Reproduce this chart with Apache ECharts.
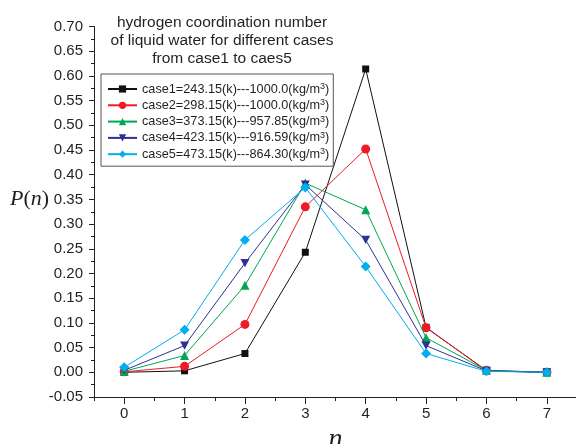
<!DOCTYPE html>
<html>
<head>
<meta charset="utf-8">
<script src="https://cdn.jsdelivr.net/npm/echarts@6/dist/echarts.min.js"></script>
<style>
  html, body { margin: 0; padding: 0; background: #fff; }
  #chart { width: 576px; height: 444px; }
</style>
</head>
<body>
<div id="chart"></div>
<script>
// coordination number n
const nValues = [0, 1, 2, 3, 4, 5, 6, 7];
const xTickLabels = ["0", "1", "2", "3", "4", "5", "6", "7"];
const xMinorTicks = [-0.5, 0.5, 1.5, 2.5, 3.5, 4.5, 5.5, 6.5, 7.5];

const caseNames = [
  "case1=243.15(k)---1000.0(kg/m3)",
  "case2=298.15(k)---1000.0(kg/m3)",
  "case3=373.15(k)---957.85(kg/m3)",
  "case4=423.15(k)---916.59(kg/m3)",
  "case5=473.15(k)---864.30(kg/m3)"
];

const case1 = [0.000, 0.003, 0.038, 0.243, 0.614, 0.091, 0.003, 0.000];
const case2 = [0.001, 0.012, 0.097, 0.335, 0.452, 0.090, 0.004, 0.000];
const case3 = [0.002, 0.034, 0.176, 0.383, 0.329, 0.070, 0.004, 0.000];
const case4 = [0.004, 0.054, 0.221, 0.380, 0.268, 0.054, 0.003, 0.000];
const case5 = [0.010, 0.086, 0.268, 0.374, 0.214, 0.038, 0.002, 0.000];

const caseData = [case1, case2, case3, case4, case5];
const colors = ["#111111", "#ed1c24", "#00a651", "#2e3192", "#00aeef"];
const symbols = ["rect", "circle", "triangle", "path://M0,0 L10,0 L5,9 Z", "diamond"];
const symbolSizes = [7, 9, 9, 9, 10];

const chart = echarts.init(document.getElementById("chart"));
const textColor = "#231f20";
const sans = "Liberation Sans, Arial, sans-serif";
const serif = "Liberation Serif, Times New Roman, serif";

const series = caseData.map((vals, i) => ({
  name: caseNames[i],
  type: "line",
  xAxisIndex: 0,
  data: vals.map((v, k) => [nValues[k], v]),
  symbol: symbols[i],
  symbolSize: symbolSizes[i],
  symbolKeepAspect: true,
  lineStyle: { color: colors[i], width: 1 },
  itemStyle: { color: colors[i] },
  z: 2 + i
}));

const option = {
  animation: false,
  backgroundColor: "#fff",
  textStyle: { fontFamily: sans, color: textColor },
  title: {
    text: "hydrogen coordination number\nof liquid water for different cases\nfrom case1 to caes5",
    left: 217,
    top: 8.5,
    textAlign: "center",
    textStyle: {
      fontFamily: sans,
      fontSize: 15.5,
      fontWeight: "normal",
      color: textColor,
      lineHeight: 18
    }
  },
  legend: {
    orient: "vertical",
    left: 101,
    top: 74,
    padding: [8, 4, 5, 6],
    borderColor: "#555",
    borderWidth: 1,
    itemWidth: 29,
    itemHeight: 9,
    itemGap: 2.3,
    data: caseNames,
    formatter: (name) => name.replace(/3\)$/, "{sup|3}{t|)}"),
    textStyle: {
      fontFamily: sans,
      fontSize: 12.7,
      color: textColor,
      lineHeight: 14,
      rich: {
        sup: { fontFamily: sans, fontSize: 9, lineHeight: 9, verticalAlign: "top", color: textColor },
        t: { fontFamily: sans, fontSize: 12.7, lineHeight: 14, color: textColor }
      }
    }
  },
  grid: { left: 94, top: 26.5, width: 483, height: 370.5, outerBoundsMode: "none" },
  xAxis: [
    {
      type: "value",
      min: -0.5,
      max: 7.5,
      name: "n",
      nameLocation: "middle",
      nameGap: 19,
      nameTextStyle: { fontFamily: serif, fontStyle: "italic", fontSize: 28, color: textColor },
      axisLine: { show: true, onZero: false, lineStyle: { color: "#222", width: 1 } },
      axisTick: { show: true, customValues: nValues, length: 7, lineStyle: { color: "#222" } },
      axisLabel: {
        customValues: nValues,
        formatter: (v) => xTickLabels[nValues.indexOf(v)] ?? "",
        fontSize: 15, color: textColor, margin: 9
      },
      splitLine: { show: false }
    },
    {
      type: "value",
      min: -0.5,
      max: 7.5,
      position: "bottom",
      axisLine: { show: false, onZero: false },
      axisTick: { show: true, customValues: xMinorTicks, length: 4, lineStyle: { color: "#222" } },
      axisLabel: { show: false },
      splitLine: { show: false }
    }
  ],
  yAxis: {
    type: "value",
    min: -0.05,
    max: 0.70,
    interval: 0.05,
    axisLine: { show: true, onZero: false, lineStyle: { color: "#222", width: 1 } },
    axisTick: { show: true, length: 5, lineStyle: { color: "#222" } },
    minorTick: { show: true, splitNumber: 2, length: 3, lineStyle: { color: "#222" } },
    axisLabel: {
      fontSize: 15,
      color: textColor,
      margin: 11,
      formatter: (v) => v.toFixed(2)
    },
    splitLine: { show: false }
  },
  graphic: [
    {
      type: "text",
      left: 10,
      top: 188,
      style: {
        text: "{i|P}{r|(}{i|n}{r|)}",
        rich: {
          i: { fontFamily: serif, fontStyle: "italic", fontSize: 22, fill: textColor },
          r: { fontFamily: serif, fontSize: 22, fill: textColor }
        }
      }
    }
  ],
  series: series
};

chart.setOption(option);
</script>
</body>
</html>
